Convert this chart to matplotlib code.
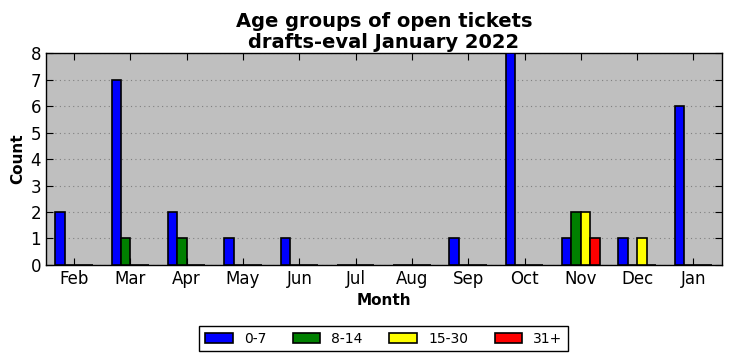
import matplotlib
matplotlib.use('Agg')
import matplotlib.pyplot as plt
import numpy as np

months = ['Feb', 'Mar', 'Apr', 'May', 'Jun', 'Jul', 'Aug', 'Sep', 'Oct', 'Nov', 'Dec', 'Jan']
age_0_7 = [2, 7, 2, 1, 1, 0, 0, 1, 8, 1, 1, 6]
age_8_14 = [0, 1, 1, 0, 0, 0, 0, 0, 0, 2, 0, 0]
age_15_30 = [0, 0, 0, 0, 0, 0, 0, 0, 0, 2, 1, 0]
age_31_plus = [0, 0, 0, 0, 0, 0, 0, 0, 0, 1, 0, 0]

series = [('0-7', age_0_7, 'blue'), ('8-14', age_8_14, 'green'),
          ('15-30', age_15_30, 'yellow'), ('31+', age_31_plus, 'red')]

fig = plt.figure(figsize=(7.32, 3.61), dpi=100)
fig.patch.set_facecolor('white')
ax = fig.add_axes([0.0628, 0.266, 0.923, 0.587])
ax.set_facecolor('#bfbfbf')

x = np.arange(len(months))
w = 1 / 6
for i, (label, vals, color) in enumerate(series):
    ax.bar(x + (i - 2) * w, vals, width=w, align='edge', color=color,
           edgecolor='black', linewidth=1.2, label=label, zorder=3)

ax.set_xlim(-0.5, len(months) - 0.5)
ax.set_ylim(0, 8)
ax.set_xticks(x)
ax.set_xticklabels(months, fontsize=12)
ax.set_yticks(range(0, 9))
ax.tick_params(axis='y', labelsize=12)
ax.tick_params(direction='in', top=True, right=True, length=5)
ax.yaxis.grid(True, linestyle=(0, (1, 3)), color='#808080', linewidth=0.8, zorder=0)
ax.set_axisbelow(True)
for s in ax.spines.values():
    s.set_linewidth(1.0)

ax.set_title('Age groups of open tickets\ndrafts-eval January 2022',
             fontsize=14, fontweight='bold', linespacing=1.1, pad=4)
ax.set_xlabel('Month', fontsize=11, fontweight='bold')
ax.set_ylabel('Count', fontsize=11, fontweight='bold')

leg = ax.legend(loc='upper center', bbox_to_anchor=(0.5, -0.255), ncol=4,
                fontsize=10, fancybox=False, framealpha=1, edgecolor='black',
                handlelength=2.0, handletextpad=0.8, columnspacing=1.9,
                borderpad=0.4)
leg.get_frame().set_linewidth(1.0)

fig.savefig('out.png', dpi=100)
